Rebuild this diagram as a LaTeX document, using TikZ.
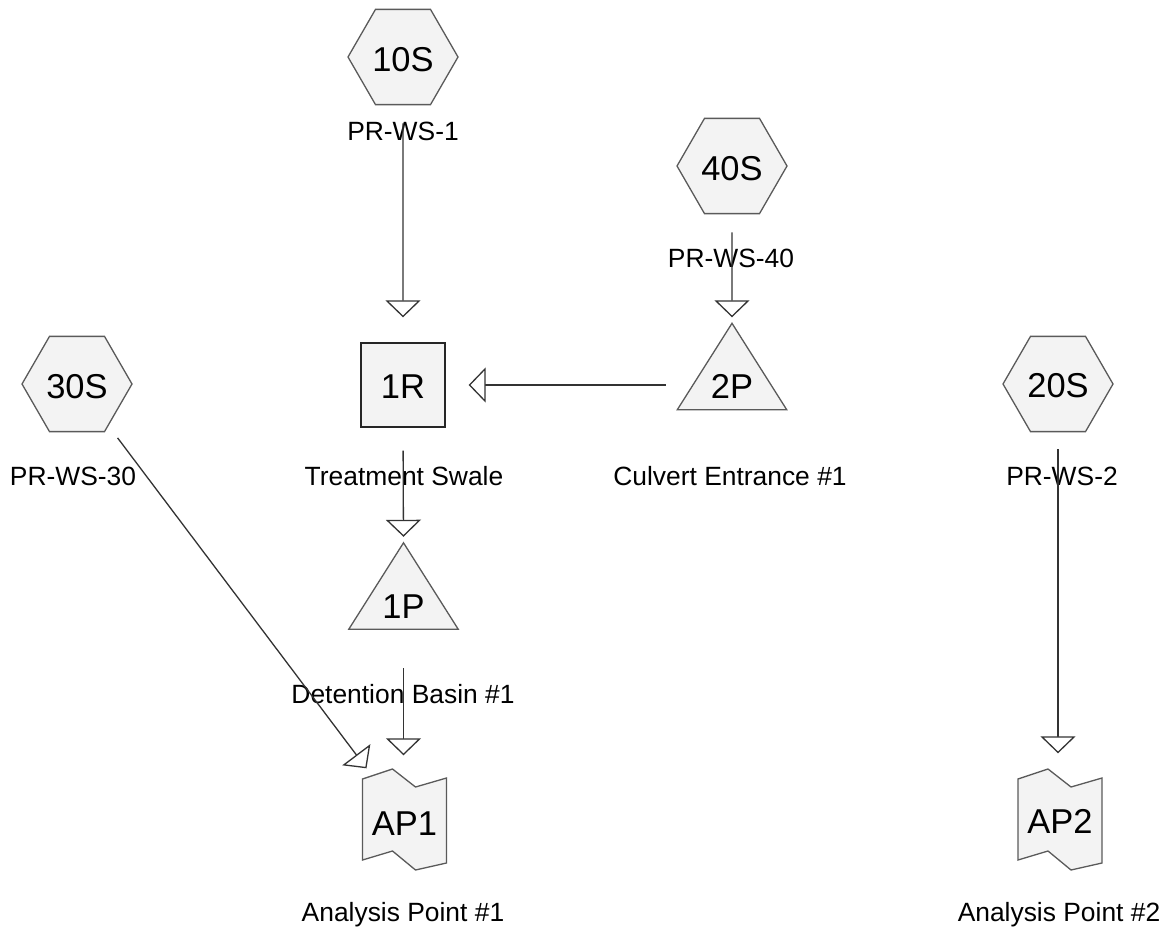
\documentclass[tikz,border=0pt]{standalone}
\usepackage{fontspec}
\setmainfont{Liberation Sans}
\usetikzlibrary{arrows.meta,shapes.geometric,calc}
\pgfdeclarelayer{bg}
\pgfsetlayers{bg,main}
\newcommand\lowtext[2]{\raisebox{-#1}[0pt][0pt]{#2}}
\newcommand\myNodeFont{\fontsize{34.5}{40}\selectfont}
\newcommand\myLabelFont{\fontsize{26.4}{30}\selectfont}
\definecolor{shapefill}{HTML}{F3F3F3}
\definecolor{edgegray}{HTML}{5A5A5A}
\definecolor{wire}{HTML}{333333}
\begin{document}
\begin{tikzpicture}[x=1pt,y=-1pt,
  hexnode/.style={regular polygon, regular polygon sides=6, minimum size=110pt,
    inner sep=0pt, draw=edgegray, fill=shapefill, line width=1.3pt, font=\myNodeFont},
  boxnode/.style={rectangle, minimum size=84pt, inner sep=0pt, draw=black!85,
    fill=shapefill, line width=1.3pt, font=\myNodeFont},
  trinode/.style={rectangle, minimum width=109pt, minimum height=86pt, inner sep=0pt,
    font=\myNodeFont},
  apnode/.style={rectangle, minimum width=84pt, minimum height=101pt, inner sep=0pt,
    font=\myNodeFont},
  shapeline/.style={draw=edgegray, fill=shapefill, line width=1.3pt, line join=miter},
  lbl/.style={font=\myLabelFont, anchor=base, inner sep=0pt},
  conn/.style={draw=wire, line width=1.3pt,
    -{Triangle[length=17pt,width=35pt,fill=white]}}
]
\useasboundingbox (0,0) rectangle (1172,931);

% nodes
\node[hexnode] (n10S) at (403,57) {\lowtext{15pt}{10S}};
\node[hexnode] (n40S) at (732,166) {\lowtext{14pt}{40S}};
\node[hexnode] (n30S) at (77,384) {\lowtext{14pt}{30S}};
\node[hexnode] (n20S) at (1058,384) {\lowtext{13pt}{20S}};
\node[boxnode] (n1R) at (403,385) {\lowtext{13pt}{1R}};
\node[trinode] (n2P) at (732,366.5) {\lowtext{31.5pt}{2P}};
\node[trinode] (n1P) at (403.5,586) {\lowtext{32pt}{1P}};
\node[apnode] (nAP1) at (404.5,819) {\lowtext{16pt}{AP1}};
\node[apnode] (nAP2) at (1060,819) {\lowtext{14pt}{AP2}};

\begin{pgfonlayer}{bg}
  \foreach \n in {n2P,n1P}
    \draw[shapeline] (\n.north) -- (\n.south east) -- (\n.south west) -- cycle;
  \foreach \n in {nAP1,nAP2}
    \draw[shapeline, shift={(\n.center)}] (-42,-40) -- (-12,-50) -- (11,-32) -- (42,-41)
      -- (42,44) -- (11,51) -- (-12,32) -- (-42,41) -- cycle;
\end{pgfonlayer}

% labels
\node[lbl] (l10S) at (403,140) {PR-WS-1};
\node[lbl] (l40S) at (731,267) {PR-WS-40};
\node[lbl] (l30S) at (73,485) {PR-WS-30};
\node[lbl] (l1R) at (404,485) {Treatment Swale};
\node[lbl] (l2P) at (730,485) {Culvert Entrance \#1};
\node[lbl] (l20S) at (1062,485) {PR-WS-2};
\node[lbl] (l1P) at (403,703) {Detention Basin \#1};
\node[lbl] (lAP1) at (403,921) {Analysis Point \#1};
\node[lbl] (lAP2) at (1059,921) {Analysis Point \#2};

% connectors
\draw[conn, shorten <=18pt, shorten >=25pt] (n10S.south) -- (n1R.north);
\draw[conn, shorten <=18pt, shorten >=6pt] (n40S.south) -- (n2P.north);
\draw[conn, shorten >=23pt] ($(n2P.west |- n1R.east)+(-11.5,0)$) -- (n1R.east);
\draw[conn, shorten <=23pt, shorten >=6pt] (n1R.south) -- (n1P.north);
\draw[conn, shorten <=39pt, shorten >=13pt] (n1P.south) -- (n1P.south |- nAP1.north);
\draw[conn, shorten <=15pt] (n30S) -- (nAP1);
\draw[conn, shorten <=17pt, shorten >=15pt] (n20S.south) -- (n20S.south |- nAP2.north);
\end{tikzpicture}
\end{document}
